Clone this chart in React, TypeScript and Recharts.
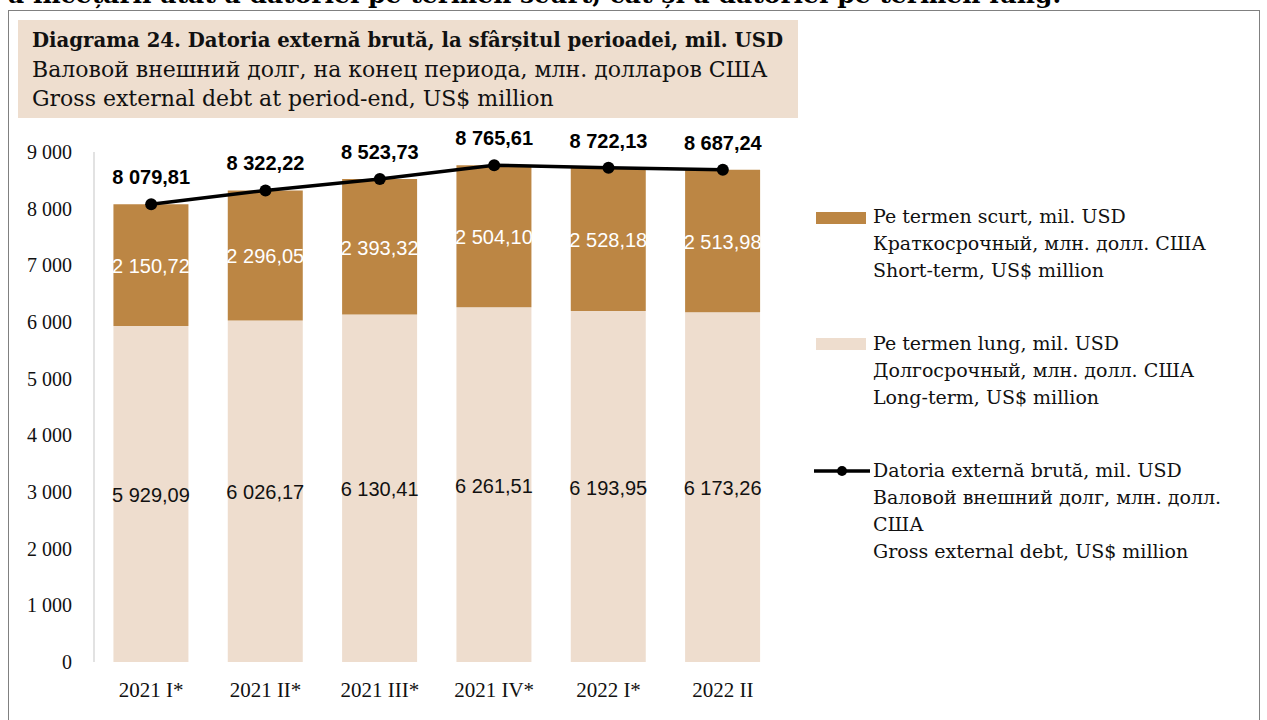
import React from "react";
import { ComposedChart, Bar, Line, XAxis, YAxis, LabelList } from "recharts";

const categories = ["2021 I*", "2021 II*", "2021 III*", "2021 IV*", "2022 I*", "2022 II"];
const longTerm = [5929.09, 6026.17, 6130.41, 6261.51, 6193.95, 6173.26];
const shortTerm = [2150.72, 2296.05, 2393.32, 2504.1, 2528.18, 2513.98];
const totalDebt = [8079.81, 8322.22, 8523.73, 8765.61, 8722.13, 8687.24];
const yTicks = [0, 1000, 2000, 3000, 4000, 5000, 6000, 7000, 8000, 9000];
const bandTicks = [0, 1, 2, 3, 4, 5, 6];

const data = categories.map((c, i) => ({
  cat: c,
  longTerm: longTerm[i],
  shortTerm: shortTerm[i],
  total: totalDebt[i],
}));

const SHORT = "#BC8644";
const LONG = "#EEDDCE";
const SERIF = "'DejaVu Serif', serif";
const AXISFONT = "'Liberation Serif', serif";
const SANS = "'Liberation Sans', sans-serif";

const groupThousands = (s: string) => s.replace(/\B(?=(\d{3})+(?!\d))/g, " ");
const fmtDec = (v: any) => {
  const [a, b] = Number(v).toFixed(2).split(".");
  return groupThousands(a) + "," + b;
};
const fmtInt = (v: any) => groupThousands(String(v));

const makeCenterLabel = (color: string) => (props: any) => {
  const { x, y, width, height, value } = props;
  return (
    <text
      x={Number(x) + Number(width) / 2}
      y={Number(y) + Number(height) / 2 + 1}
      textAnchor="middle"
      dominantBaseline="central"
      fill={color}
      fontFamily={SANS}
      fontSize={20}
    >
      {fmtDec(value)}
    </text>
  );
};

const TopLabel = (props: any) => {
  const { x, y, value } = props;
  return (
    <text
      x={Number(x)}
      y={Number(y) - 27}
      textAnchor="middle"
      dominantBaseline="central"
      fill="#000"
      fontFamily={SANS}
      fontWeight="bold"
      fontSize={20}
    >
      {fmtDec(value)}
    </text>
  );
};

const legendText: React.CSSProperties = {
  fontFamily: SERIF,
  fontSize: 19,
  lineHeight: "27px",
  color: "#111",
  position: "absolute",
  left: 873,
  whiteSpace: "nowrap",
};

export default function App() {
  return (
    <div style={{ position: "absolute", left: 0, top: 0, width: 1267, height: 720, overflow: "hidden", background: "#fff" }}>
      <div
        style={{
          position: "absolute",
          left: 8,
          top: -18,
          fontFamily: SERIF,
          fontWeight: "bold",
          fontSize: 25,
          lineHeight: "26px",
          whiteSpace: "nowrap",
          color: "#000",
        }}
      >
        a încețării atât a datoriei pe termen scurt, cât și a datoriei pe termen lung.
      </div>
      <div
        style={{
          position: "absolute",
          left: 8,
          top: 10,
          width: 1252,
          height: 730,
          border: "1.5px solid #808080",
          boxSizing: "border-box",
        }}
      />
      <div
        style={{
          position: "absolute",
          left: 18,
          top: 20,
          width: 780,
          height: 98,
          background: "#EEDECF",
          fontFamily: SERIF,
          fontSize: 22,
          lineHeight: "29px",
          color: "#111",
          padding: "6px 0 0 14px",
          boxSizing: "border-box",
          whiteSpace: "nowrap",
        }}
      >
        <div style={{ fontWeight: "bold", fontSize: 19.7 }}>Diagrama 24. Datoria externă brută, la sfârșitul perioadei, mil. USD</div>
        <div>Валовой внешний долг, на конец периода, млн. долларов США</div>
        <div>Gross external debt at period-end, US$ million</div>
      </div>

      <div style={{ position: "absolute", left: 0, top: 0 }}>
        <ComposedChart
          width={800}
          height={720}
          data={data}
          margin={{ top: 152, right: 20, bottom: 28, left: 0 }}
          barCategoryGap="17%"
        >
          <XAxis
            xAxisId="grid"
            type="number"
            domain={[0, 6]}
            ticks={bandTicks}
            tick={false}
            tickSize={7}
            height={0}
            stroke="#D9D9D9"
            strokeWidth={1.5}
          />
          <XAxis
            dataKey="cat"
            axisLine={false}
            tickLine={false}
            tickSize={0}
            tickMargin={20}
            height={30}
            interval={0}
            tick={{ fill: "#111", fontFamily: AXISFONT, fontSize: 21 }}
          />
          <YAxis
            domain={[0, 9000]}
            ticks={yTicks}
            width={94}
            tickLine={false}
            tickSize={0}
            tickMargin={22}
            stroke="#D9D9D9"
            strokeWidth={1.5}
            tickFormatter={fmtInt}
            tick={{ fill: "#111", fontFamily: AXISFONT, fontSize: 20 }}
          />
          <Bar dataKey="longTerm" stackId="a" fill={LONG} isAnimationActive={false}>
            <LabelList dataKey="longTerm" content={makeCenterLabel("#111")} />
          </Bar>
          <Bar dataKey="shortTerm" stackId="a" fill={SHORT} isAnimationActive={false}>
            <LabelList dataKey="shortTerm" content={makeCenterLabel("#fff")} />
          </Bar>
          <Line
            dataKey="total"
            stroke="#000"
            strokeWidth={3.5}
            dot={{ r: 6, fill: "#000", stroke: "#000", strokeWidth: 0 }}
            isAnimationActive={false}
          >
            <LabelList dataKey="total" content={TopLabel} />
          </Line>
        </ComposedChart>
      </div>

      <div style={{ position: "absolute", left: 816, top: 212, width: 50, height: 12, background: SHORT }} />
      <div style={{ ...legendText, top: 203 }}>
        Pe termen scurt, mil. USD<br />Краткосрочный, млн. долл. США<br />Short-term, US$ million
      </div>

      <div style={{ position: "absolute", left: 816, top: 338, width: 50, height: 12, background: LONG }} />
      <div style={{ ...legendText, top: 330 }}>
        Pe termen lung, mil. USD<br />Долгосрочный, млн. долл. США<br />Long-term, US$ million
      </div>

      <svg style={{ position: "absolute", left: 812, top: 460 }} width={60} height={20}>
        <line x1={2} y1={11} x2={58} y2={11} stroke="#000" strokeWidth={3.5} />
        <circle cx={30} cy={11} r={5} fill="#000" />
      </svg>
      <div style={{ ...legendText, top: 457 }}>
        Datoria externă brută, mil. USD<br />Валовой внешний долг, млн. долл.<br />США<br />Gross external debt, US$ million
      </div>
    </div>
  );
}
